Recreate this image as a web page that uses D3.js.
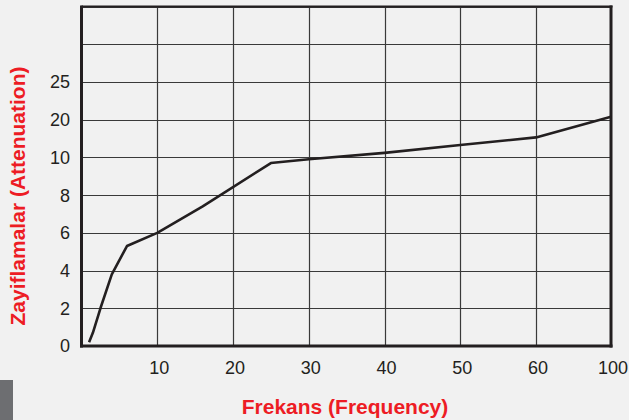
<!DOCTYPE html>
<html lang="tr">
<head>
  <meta charset="UTF-8">
  <title>Zayiflamalar / Frekans</title>
  <script src="https://d3js.org/d3.v7.min.js"></script>
  <style>
    html, body { margin: 0; padding: 0; background: #f1f1f1; }
    svg { display: block; font-family: "Liberation Sans", Arial, sans-serif; }
    .tick-label { font-size: 18px; fill: #231f20; }
    .axis-title { font-size: 21px; font-weight: bold; fill: #ed1c24; }
  </style>
</head>
<body>
  <svg id="chart" width="629" height="420"></svg>
  <script>
    // data
    const freq  = [1, 1.5, 2.5, 4, 6, 10, 16, 25, 30, 40, 50, 60, 100];
    const atten = [0.2, 0.7, 2.0, 3.8, 5.3, 6.0, 7.4, 9.7, 9.9, 11.2, 13.3, 15.3, 20.4];

    const xTicks = [10, 20, 30, 40, 50, 60, 100];
    const yTicks = [0, 2, 4, 6, 8, 10, 20, 25];
    const yGridExtra = [30, 35];   // unlabeled grid rows at the top

    const svg = d3.select("#chart");
    const plotLeft = 81.5, plotRight = 611, plotTop = 6.5, plotBottom = 346;

    // axes are not uniform: 0-60 is linear, 60-100 squeezed in one cell
    const x = d3.scaleLinear().domain([0, 60, 100]).range([plotLeft, 536, plotRight]);
    // 0-10 linear, then 10-20 and 20-25 get one cell each
    const yStep = (plotBottom - plotTop) / 9;
    const y = d3.scaleLinear()
      .domain([0, 10, 20, 25, 30, 35])
      .range([plotBottom, plotBottom - 5 * yStep, plotBottom - 6 * yStep,
              plotBottom - 7 * yStep, plotBottom - 8 * yStep, plotTop]);

    svg.append("rect").attr("width", 629).attr("height", 420).attr("fill", "#f1f1f1");

    // grid
    const grid = svg.append("g");
    grid.selectAll(".hx")
      .data(yTicks.concat(yGridExtra).filter(d => d !== 0))
      .enter().append("line")
      .attr("x1", plotLeft).attr("x2", plotRight)
      .attr("y1", d => Math.round(y(d)) + 0.5).attr("y2", d => Math.round(y(d)) + 0.5)
      .attr("stroke", "#3a3a3a").attr("stroke-width", 1.2);
    grid.selectAll(".vx")
      .data(xTicks.filter(d => d !== 100))
      .enter().append("line")
      .attr("y1", plotTop).attr("y2", plotBottom)
      .attr("x1", d => Math.round(x(d)) + 0.5).attr("x2", d => Math.round(x(d)) + 0.5)
      .attr("stroke", "#3a3a3a").attr("stroke-width", 1.2);

    // frame
    svg.append("line").attr("x1", plotLeft).attr("x2", plotRight + 1.5).attr("y1", plotTop).attr("y2", plotTop)
      .attr("stroke", "#231f20").attr("stroke-width", 2);
    svg.append("line").attr("x1", plotLeft).attr("x2", plotLeft).attr("y1", plotTop - 1).attr("y2", plotBottom + 1.5)
      .attr("stroke", "#231f20").attr("stroke-width", 3);
    svg.append("line").attr("x1", plotRight).attr("x2", plotRight).attr("y1", plotTop - 1).attr("y2", plotBottom + 1.5)
      .attr("stroke", "#231f20").attr("stroke-width", 3);
    svg.append("line").attr("x1", plotLeft - 1.5).attr("x2", plotRight + 1.5).attr("y1", plotBottom).attr("y2", plotBottom)
      .attr("stroke", "#231f20").attr("stroke-width", 3);

    // the curve
    const pts = freq.map((f, i) => [f, atten[i]]);
    svg.append("path")
      .datum(pts)
      .attr("fill", "none")
      .attr("stroke", "#231f20")
      .attr("stroke-width", 2.6)
      .attr("stroke-linejoin", "round")
      .attr("d", d3.line().x(d => x(d[0])).y(d => y(d[1])));

    // tick labels
    svg.selectAll(".ylab")
      .data(yTicks)
      .enter().append("text")
      .attr("class", "tick-label")
      .attr("x", 70)
      .attr("y", d => y(d))
      .attr("dy", "0.36em")
      .attr("text-anchor", "end")
      .text(d => d);

    svg.selectAll(".xlab")
      .data(xTicks)
      .enter().append("text")
      .attr("class", "tick-label")
      .attr("x", d => x(d) + 2)
      .attr("y", 368)
      .attr("dy", "0.36em")
      .attr("text-anchor", "middle")
      .text(d => d);

    // axis titles
    svg.append("text")
      .attr("class", "axis-title")
      .attr("transform", "translate(25,196) rotate(-90)")
      .attr("text-anchor", "middle")
      .text("Zayiflamalar (Attenuation)");

    svg.append("text")
      .attr("class", "axis-title")
      .attr("x", 345)
      .attr("y", 414)
      .attr("text-anchor", "middle")
      .text("Frekans (Frequency)");

    // little grey block bottom-left
    svg.append("rect").attr("x", 0).attr("y", 380).attr("width", 13).attr("height", 40).attr("fill", "#6d6e71");
  </script>
</body>
</html>
